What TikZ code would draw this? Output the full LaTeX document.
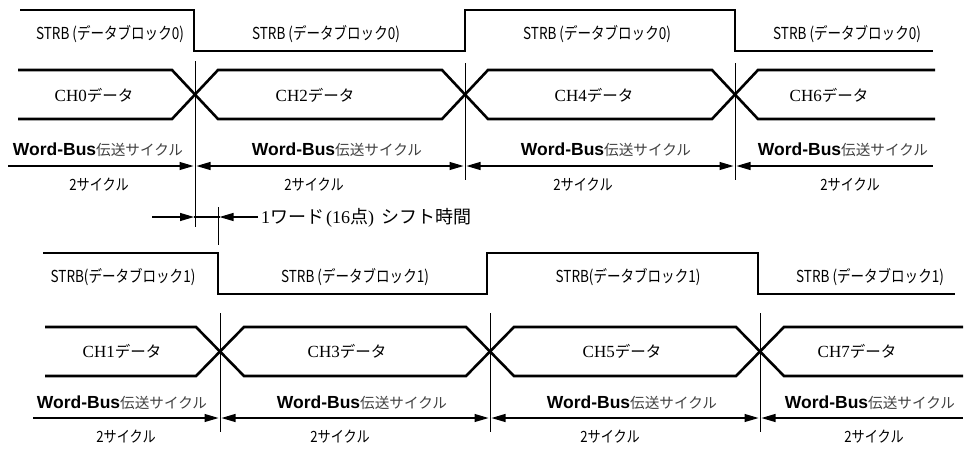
\documentclass[tikz,border=0pt]{standalone}
\usepackage{fontspec}
\setmainfont{Liberation Serif}
\setsansfont{Liberation Sans}
\newfontfamily\jp{Noto Sans CJK JP}
\usetikzlibrary{arrows.meta}
\newcommand\strbtxt[1]{\scalebox{0.82}[1]{\jp\fontsize{16.5}{16.5}\selectfont #1}}
\newcommand\wbtxt{{\sffamily\bfseries\fontsize{17.5}{17.5}\selectfont Word-Bus}{\jp\fontsize{14.6}{14.6}\selectfont\color{black!75}伝送サイクル}}
\newcommand\cyctxt{\scalebox{0.85}[1]{\jp\fontsize{15.5}{15.5}\selectfont 2サイクル}}
\newcommand\chtxt[1]{{\fontsize{17}{17}\selectfont CH#1{\jp\fontsize{15.5}{15.5}\selectfont データ}}}
\begin{document}
\begin{tikzpicture}[x=1pt,y=-1pt,
  sig/.style={line width=2.6pt,line join=miter},
  vline/.style={line width=1pt},
  dim/.style={line width=1.1pt},
  lbl/.style={inner sep=0pt,anchor=center},
  >={Triangle[length=14pt,width=8pt]}]
\useasboundingbox (0,0) rectangle (970,448);
% ---------------- top section ----------------
\draw[sig] (20,10) -- (194,10) -- (194,51) -- (465,51) -- (465,10) -- (735,10) -- (735,51) -- (933,51);
\node[lbl] (s00) at (110,34) {\strbtxt{STRB (データブロック0)}};
\node[lbl] (s01) at (326,34) {\strbtxt{STRB (データブロック0)}};
\node[lbl] (s02) at (597,34) {\strbtxt{STRB (データブロック0)}};
\node[lbl] (s03) at (847,34) {\strbtxt{STRB (データブロック0)}};
\draw[sig] (18,70) -- (172,70) -- (218,119) -- (442,119) -- (488,70) -- (712,70) -- (758,119) -- (935,119);
\draw[sig] (18,119) -- (172,119) -- (218,70) -- (442,70) -- (488,119) -- (712,119) -- (758,70) -- (935,70);
\node[lbl] (c0) at (94,95) {\chtxt{0}};
\node[lbl] (c2) at (315,95) {\chtxt{2}};
\node[lbl] (c4) at (594,95) {\chtxt{4}};
\node[lbl] (c6) at (829,95) {\chtxt{6}};
\coordinate (tv1t) at (195,61);  \coordinate (tv1b) at (195,227);
\coordinate (tv2t) at (465,63);  \coordinate (tv2b) at (465,180);
\coordinate (tv3t) at (735,63);  \coordinate (tv3b) at (735,180);
\draw[vline] (tv1t) -- (tv1b);
\draw[vline] (tv2t) -- (tv2b);
\draw[vline] (tv3t) -- (tv3b);
\coordinate (ta0) at (8,166);
\coordinate (ta1l) at (193.5,166); \coordinate (ta1r) at (196.5,166);
\coordinate (ta2l) at (463.5,166); \coordinate (ta2r) at (466.5,166);
\coordinate (ta3l) at (733.5,166); \coordinate (ta3r) at (736.5,166);
\coordinate (ta4) at (933,166);
\draw[dim,->] (ta0) -- (ta1l);
\draw[dim,<->] (ta1r) -- (ta2l);
\draw[dim,<->] (ta2r) -- (ta3l);
\draw[dim,<-] (ta3r) -- (ta4);
\node[lbl] (w0) at (98,150) {\wbtxt};
\node[lbl] (w1) at (337,150) {\wbtxt};
\node[lbl] (w2) at (606,150) {\wbtxt};
\node[lbl] (w3) at (843,150) {\wbtxt};
\node[lbl] (y0) at (99,185) {\cyctxt};
\node[lbl] (y1) at (314,185) {\cyctxt};
\node[lbl] (y2) at (583,185) {\cyctxt};
\node[lbl] (y3) at (850,185) {\cyctxt};
% shift marker
\coordinate (sh0) at (152,217); \coordinate (sh1) at (194,217);
\coordinate (sh2) at (219.5,217); \coordinate (sh3) at (258,217);
\coordinate (svt) at (218,207); \coordinate (svb) at (218,245);
\draw[vline] (svt) -- (svb);
\draw[dim] (sh1) -- (sh2);
\draw[dim,->] (sh0) -- (sh1);
\draw[dim,->] (sh3) -- (sh2);
\node[inner sep=0pt,anchor=west] (sht) at (261,218) {\fontsize{18}{18}\selectfont 1{\jp ワード}\hspace{2pt}(16{\jp 点})\hspace{7pt}{\jp シフト時間}};
% ---------------- bottom section ----------------
\draw[sig] (43,253) -- (218,253) -- (218,294) -- (487,294) -- (487,253) -- (758,253) -- (758,294) -- (955,294);
\node[lbl] (s10) at (123,277) {\strbtxt{STRB(データブロック1)}};
\node[lbl] (s11) at (355,277) {\strbtxt{STRB (データブロック1)}};
\node[lbl] (s12) at (628,277) {\strbtxt{STRB(データブロック1)}};
\node[lbl] (s13) at (870,277) {\strbtxt{STRB (データブロック1)}};
\draw[sig] (45,327) -- (196,327) -- (244,376) -- (466,376) -- (514,327) -- (736,327) -- (784,376) -- (963,376);
\draw[sig] (45,376) -- (196,376) -- (244,327) -- (466,327) -- (514,376) -- (736,376) -- (784,327) -- (963,327);
\node[lbl] (c1) at (122,351) {\chtxt{1}};
\node[lbl] (c3) at (347,351) {\chtxt{3}};
\node[lbl] (c5) at (622,351) {\chtxt{5}};
\node[lbl] (c7) at (857,351) {\chtxt{7}};
\coordinate (bv1t) at (220,313); \coordinate (bv1b) at (220,432);
\coordinate (bv2t) at (490,313); \coordinate (bv2b) at (490,432);
\coordinate (bv3t) at (760,313); \coordinate (bv3b) at (760,432);
\draw[vline] (bv1t) -- (bv1b);
\draw[vline] (bv2t) -- (bv2b);
\draw[vline] (bv3t) -- (bv3b);
\coordinate (ba0) at (33,418);
\coordinate (ba1l) at (218.5,418); \coordinate (ba1r) at (221.5,418);
\coordinate (ba2l) at (488.5,418); \coordinate (ba2r) at (491.5,418);
\coordinate (ba3l) at (758.5,418); \coordinate (ba3r) at (761.5,418);
\coordinate (ba4) at (963,418);
\draw[dim,->] (ba0) -- (ba1l);
\draw[dim,<->] (ba1r) -- (ba2l);
\draw[dim,<->] (ba2r) -- (ba3l);
\draw[dim,<-] (ba3r) -- (ba4);
\node[lbl] (w10) at (122,403) {\wbtxt};
\node[lbl] (w11) at (362,403) {\wbtxt};
\node[lbl] (w12) at (632,403) {\wbtxt};
\node[lbl] (w13) at (870,403) {\wbtxt};
\node[lbl] (y10) at (126,437) {\cyctxt};
\node[lbl] (y11) at (340,437) {\cyctxt};
\node[lbl] (y12) at (610,437) {\cyctxt};
\node[lbl] (y13) at (874,437) {\cyctxt};
\end{tikzpicture}
\end{document}
